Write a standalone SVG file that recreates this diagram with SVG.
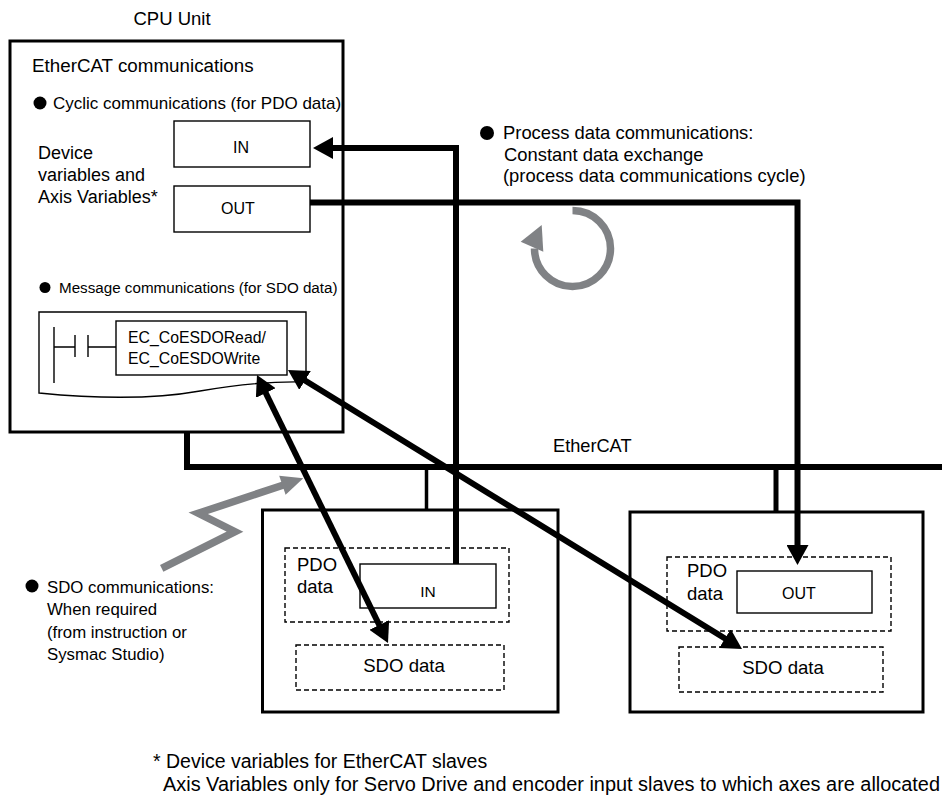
<svg xmlns="http://www.w3.org/2000/svg" width="942" height="796" viewBox="0 0 942 796">
<defs>
<style>
text{font-family:"Liberation Sans",Arial,sans-serif;fill:#000}
.box{fill:#fff;stroke:#000;stroke-width:3}
.thin{fill:#fff;stroke:#000;stroke-width:1.4}
.dash{fill:none;stroke:#000;stroke-width:1.4;stroke-dasharray:5 3}
.thick{fill:none;stroke:#000;stroke-width:6;stroke-linejoin:miter}
.gray{fill:none;stroke:#808285;stroke-width:7.5;stroke-linejoin:miter}
.mid{text-anchor:middle}
</style>
<marker id="ah" viewBox="0 0 20 22" markerWidth="20" markerHeight="22" refX="12" refY="11" orient="auto-start-reverse" markerUnits="userSpaceOnUse">
<path d="M0,0 L20,11 L0,22 Z" fill="#000"/>
</marker>
</defs>
<rect width="942" height="796" fill="#fff"/>

<g id="cpu-unit">
<text x="172" y="25" font-size="18.5" class="mid">CPU Unit</text>
<rect class="box" x="10" y="41" width="333" height="391"/>
<text x="32" y="71.5" font-size="18.8">EtherCAT communications</text>
<circle cx="40" cy="103" r="6.5"/>
<text x="53" y="109" font-size="17">Cyclic communications (for PDO data)</text>
<text x="38" y="159" font-size="18">Device</text>
<text x="38" y="181" font-size="18">variables and</text>
<text x="38" y="203" font-size="18">Axis Variables*</text>
<circle cx="45" cy="287.5" r="5.5"/>
<text x="59" y="293" font-size="15.2">Message communications (for SDO data)</text>
</g>

<g id="cpu-in">
<rect class="thin" x="174" y="121" width="136" height="46"/>
<text x="241" y="153" font-size="16" class="mid">IN</text>
</g>
<g id="cpu-out">
<rect class="thin" x="174" y="186" width="136" height="46"/>
<text x="238" y="213.5" font-size="16" class="mid">OUT</text>
</g>

<g id="ladder">
<path class="thin" d="M39,312 H306 V382 C270,381 240,384 200,391 C150,400 90,398 39,393 Z"/>
<path d="M54,327 V383 M75,335 V357 M88,335 V357 M54,347 H75 M88,347 H116" fill="none" stroke="#000" stroke-width="1.4"/>
<rect class="thin" x="116" y="321" width="171" height="54"/>
<text x="128" y="343" font-size="15.8">EC_CoESDORead/</text>
<text x="128" y="364" font-size="15.8">EC_CoESDOWrite</text>
</g>

<g id="process-label">
<circle cx="487" cy="133" r="7"/>
<text x="503" y="139" font-size="18.4">Process data communications:</text>
<text x="504" y="160.5" font-size="18.4">Constant data exchange</text>
<text x="503" y="182" font-size="18.4">(process data communications cycle)</text>
</g>

<g id="cycle-icon">
<path class="gray" d="M572.5,210.5 A38,38 0 1 1 534.5,248.5"/>
<polygon points="520.7,241.7 543.3,251.7 541.7,225" fill="#808285"/>
</g>

<g id="ethercat-label">
<text x="553" y="451.5" font-size="18.2">EtherCAT</text>
</g>

<g id="slave-1">
<rect class="box" x="262.5" y="510" width="295.5" height="202"/>
<rect class="dash" x="285" y="548" width="224" height="74"/>
<text x="297" y="570.5" font-size="18.5">PDO</text>
<text x="297" y="593" font-size="18.5">data</text>
<rect class="thin" x="360" y="564" width="136" height="44"/>
<text x="428" y="596.5" font-size="15.5" class="mid">IN</text>
<rect class="dash" x="296" y="645" width="208" height="45"/>
<text x="404" y="672" font-size="18.6" class="mid">SDO data</text>
</g>

<g id="slave-2">
<rect class="box" x="630" y="512" width="293" height="200"/>
<rect class="dash" x="667" y="557" width="224" height="74"/>
<text x="687" y="577" font-size="18.5">PDO</text>
<text x="687" y="600" font-size="18.5">data</text>
<rect class="thin" x="737" y="571" width="135" height="42"/>
<text x="799" y="599" font-size="16" class="mid">OUT</text>
<rect class="dash" x="679" y="647" width="204" height="45"/>
<text x="783" y="673.5" font-size="18.6" class="mid">SDO data</text>
</g>

<g id="sdo-label">
<circle cx="32" cy="586" r="6.5"/>
<text x="47" y="593" font-size="16.8">SDO communications:</text>
<text x="47" y="615" font-size="16.8">When required</text>
<text x="47" y="637.5" font-size="16.8">(from instruction or</text>
<text x="47" y="660" font-size="16.8">Sysmac Studio)</text>
</g>

<g id="footnote">
<text x="153" y="768" font-size="19.5">* Device variables for EtherCAT slaves</text>
<text x="163" y="791" font-size="19.5" textLength="777" lengthAdjust="spacingAndGlyphs">Axis Variables only for Servo Drive and encoder input slaves to which axes are allocated</text>
</g>

<g id="connectors">
<path class="thick" d="M187,432 V467 H942"/>
<line x1="426.5" y1="467" x2="426.5" y2="510" stroke="#000" stroke-width="3.5"/>
<line x1="776" y1="467" x2="776" y2="512" stroke="#000" stroke-width="5"/>
<path class="thick" d="M456,564 V148 H321" marker-end="url(#ah)"/>
<path class="thick" d="M310,202.5 H797.5 V557" marker-end="url(#ah)"/>
<line class="thick" x1="260.5" y1="382.2" x2="384.5" y2="635.8" marker-start="url(#ah)" marker-end="url(#ah)"/>
<line class="thick" x1="294.8" y1="374.2" x2="735.2" y2="644.8" marker-start="url(#ah)" marker-end="url(#ah)"/>
<polyline class="gray" points="161.7,568.3 235,531.7 198.3,513.3 284.3,484.7"/>
<polygon points="303.3,478.3 285.6,494.8 279.2,475.8" fill="#808285"/>
</g>
</svg>
